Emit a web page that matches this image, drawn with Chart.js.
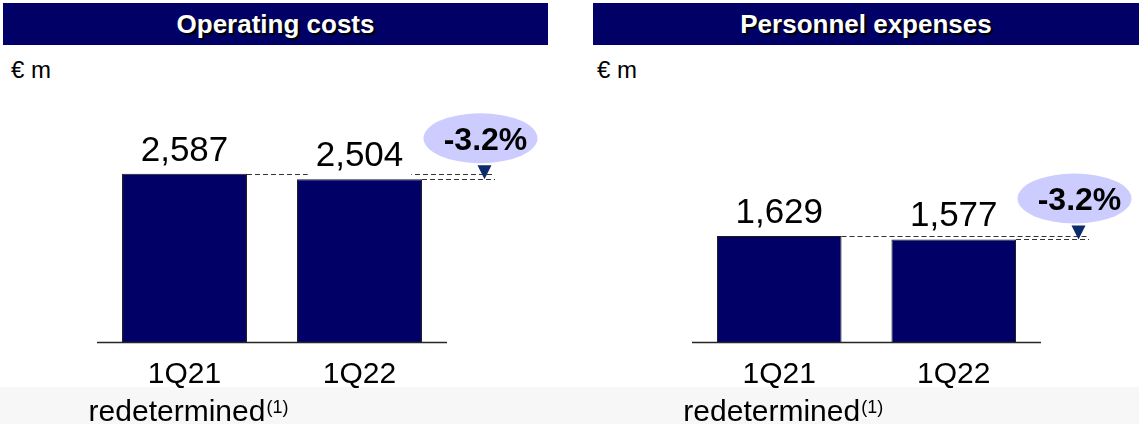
<!DOCTYPE html>
<html>
<head>
<meta charset="utf-8">
<script src="https://cdn.jsdelivr.net/npm/chart.js@4/dist/chart.umd.min.js"></script>
<style>
  html, body { margin: 0; padding: 0; background: #ffffff; }
  body { width: 1139px; height: 424px; position: relative; overflow: hidden; font-family: "Liberation Sans", Arial, sans-serif; }
  #band { position: absolute; left: 0; top: 387px; width: 1139px; height: 37px; background: #f7f7f7; }
  .title { position: absolute; top: 3px; height: 42px; background: #000066; color: #ffffff; font-weight: bold; font-size: 26px; line-height: 42px; text-align: center; text-shadow: 2px 2px 1px #000000; }
  .unit { position: absolute; top: 58px; font-size: 24px; line-height: 24px; color: #000000; }
  canvas { position: absolute; top: 0; }
</style>
</head>
<body>
<div id="band"></div>
<div class="title" id="t0" style="left:3px;width:545px;"></div>
<div class="title" id="t1" style="left:593px;width:546px;"></div>
<div class="unit" id="u0" style="left:11px;"></div>
<div class="unit" id="u1" style="left:597px;"></div>
<canvas id="c0" width="569" height="424" style="left:0px;"></canvas>
<canvas id="c1" width="570" height="424" style="left:569px;"></canvas>
<script>
// ---- data ----
const panelTitles = ['Operating costs', 'Personnel expenses'];
const unitLabel = '€ m';
const categories = ['1Q21', '1Q22'];
const categorySubLabels = ['redetermined', ''];
const footnoteMarks = ['(1)', ''];
const operatingCosts = [2587, 2504];
const personnelExpenses = [1629, 1577];
const changeLabels = ['-3.2%', '-3.2%'];
const yMax = 4000;

document.getElementById('t0').textContent = panelTitles[0];
document.getElementById('t1').textContent = panelTitles[1];
document.getElementById('u0').textContent = unitLabel;
document.getElementById('u1').textContent = unitLabel;

const FONT = '"Liberation Sans", Arial, sans-serif';
const fmt = v => v.toLocaleString('en-US');

const annotPlugin = {
  id: 'annot',
  afterDatasetsDraw(chart, args, opts) {
    const ctx = chart.ctx;
    const ca = chart.chartArea;
    const meta = chart.getDatasetMeta(0);
    const values = chart.data.datasets[0].data;
    const bars = meta.data;
    ctx.save();
    // axis line
    ctx.strokeStyle = '#262626';
    ctx.lineWidth = 1.3;
    const ay = Math.round(ca.bottom) + 0.5;
    ctx.beginPath(); ctx.moveTo(ca.left, ay); ctx.lineTo(ca.right, ay); ctx.stroke();
    // dashed reference lines
    const endX = ca.right + 48;
    ctx.setLineDash([5, 3]);
    ctx.lineWidth = 1;
    ctx.strokeStyle = '#333333';
    bars.forEach(b => {
      const y = Math.round(b.y) + 0.5;
      ctx.beginPath(); ctx.moveTo(b.x + b.width / 2, y); ctx.lineTo(endX, y); ctx.stroke();
    });
    ctx.setLineDash([]);
    // value labels (with white box like the source)
    ctx.font = '35px ' + FONT;
    ctx.textAlign = 'center';
    ctx.textBaseline = 'alphabetic';
    values.forEach((v, i) => {
      const b = bars[i];
      const base = Math.round(b.y - 13);
      const t = fmt(v);
      const w = ctx.measureText(t).width;
      ctx.fillStyle = '#ffffff';
      ctx.fillRect(b.x - w / 2 - 8, base - 30, w + 16, 39);
      ctx.fillStyle = '#000000';
      ctx.fillText(t, b.x, base);
    });
    // change bubble
    const last = bars[bars.length - 1];
    const tipX = ca.right + 37.5, tipY = last.y;
    const cx = tipX - 4, cy = tipY - 41;
    ctx.fillStyle = '#ccccff';
    ctx.beginPath(); ctx.ellipse(cx, cy, 57, 25, 0, 0, Math.PI * 2); ctx.fill();
    ctx.fillStyle = '#0d2b6b';
    ctx.beginPath(); ctx.moveTo(tipX - 7, tipY - 14); ctx.lineTo(tipX + 7, tipY - 14); ctx.lineTo(tipX, tipY); ctx.closePath(); ctx.fill();
    ctx.fillStyle = '#000000';
    ctx.font = 'bold 32px ' + FONT;
    ctx.textAlign = 'center';
    ctx.fillText(opts.change, cx + 5, cy + 12);
    // category labels
    chart.data.labels.forEach((lab, i) => {
      const x = chart.scales.x.getPixelForValue(i);
      ctx.font = '30px ' + FONT;
      ctx.textAlign = 'center';
      ctx.fillStyle = '#000000';
      ctx.fillText(lab, x, ca.bottom + 41);
      const sub = categorySubLabels[i];
      if (sub) {
        const mark = footnoteMarks[i];
        ctx.font = '30px ' + FONT;
        const w1 = ctx.measureText(sub).width;
        ctx.font = '18px ' + FONT;
        const w2 = ctx.measureText(mark).width;
        const start = x - (w1 + w2 + 1) / 2 + 4;
        ctx.textAlign = 'left';
        ctx.font = '30px ' + FONT;
        ctx.fillText(sub, start, ca.bottom + 79);
        ctx.font = '18px ' + FONT;
        ctx.fillText(mark, start + w1 + 1, ca.bottom + 71);
      }
    });
    ctx.restore();
  }
};

function makeChart(id, values, change, padding) {
  return new Chart(document.getElementById(id), {
    type: 'bar',
    data: {
      labels: categories,
      datasets: [{
        data: values,
        backgroundColor: '#000066',
        borderColor: '#1a1a1a',
        borderWidth: 1,
        barPercentage: 0.714,
        categoryPercentage: 1.0
      }]
    },
    options: {
      responsive: false,
      animation: false,
      devicePixelRatio: 1,
      layout: { padding: padding },
      scales: {
        x: { display: false, offset: true },
        y: { display: false, min: 0, max: yMax }
      },
      plugins: {
        legend: { display: false },
        tooltip: { enabled: false },
        annot: { change: change }
      }
    },
    plugins: [annotPlugin]
  });
}

makeChart('c0', operatingCosts, changeLabels[0], { left: 97, right: 122, top: 82, bottom: 82 });
makeChart('c1', personnelExpenses, changeLabels[1], { left: 123, right: 98, top: 82, bottom: 82 });
</script>
</body>
</html>
